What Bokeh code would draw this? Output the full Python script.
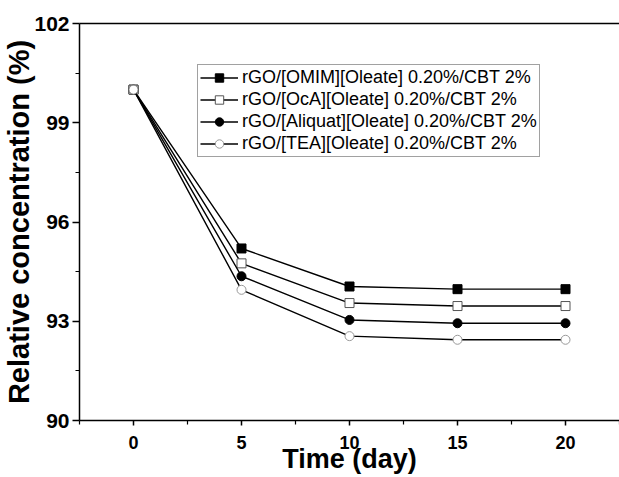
from bokeh.plotting import figure
from bokeh.models import (FixedTicker, LinearAxis, Legend, LegendItem, Range1d)
from bokeh.embed import file_html
from bokeh.resources import INLINE

days = [0, 5, 10, 15, 20]
omim = [100.0, 95.2, 94.05, 93.97, 93.97]
oca = [100.0, 94.75, 93.55, 93.46, 93.46]
aliquat = [100.0, 94.36, 93.04, 92.94, 92.94]
tea = [100.0, 93.95, 92.55, 92.44, 92.44]
labels = ["rGO/[OMIM][Oleate] 0.20%/CBT 2%",
          "rGO/[OcA][Oleate] 0.20%/CBT 2%",
          "rGO/[Aliquat][Oleate] 0.20%/CBT 2%",
          "rGO/[TEA][Oleate] 0.20%/CBT 2%"]
x_ticks = [0, 5, 10, 15, 20]
x_minor = [-2.5, 2.5, 7.5, 12.5, 17.5, 22.5]
y_ticks = [90, 93, 96, 99, 102]
y_minor = [91.5, 94.5, 97.5, 100.5]

FONT = "Liberation Sans"

p = figure(frame_width=540, frame_height=397, output_backend="svg",
           toolbar_location=None, x_range=Range1d(-2.5, 22.5),
           y_range=Range1d(90, 102),
           min_border_left=71, min_border_right=0, min_border_top=23,
           min_border_bottom=40)
p.outline_line_color = None
p.grid.visible = False
p.background_fill_color = "white"
p.border_fill_color = "white"

for ax, ticks, minor in ((p.xaxis[0], x_ticks, x_minor), (p.yaxis[0], y_ticks, y_minor)):
    ax.ticker = FixedTicker(ticks=ticks, minor_ticks=minor)
    ax.axis_line_width = 1.5
    ax.axis_line_color = "black"
    ax.major_tick_line_width = 1.5
    ax.minor_tick_line_width = 1.2
    ax.major_tick_in = 0
    ax.minor_tick_in = 0
    ax.major_tick_out = 7
    ax.minor_tick_out = 4
    ax.major_label_text_font = FONT
    ax.major_label_text_font_style = "bold"
    ax.major_label_text_color = "black"
    ax.axis_label_text_font = FONT
    ax.axis_label_text_font_style = "bold"
    ax.axis_label_text_color = "black"

p.xaxis[0].major_tick_out = 5
p.xaxis[0].major_label_text_font_size = "18px"
p.xaxis[0].major_label_standoff = 10
p.xaxis[0].axis_label = "Time (day)"
p.xaxis[0].axis_label_text_font_size = "27px"
p.xaxis[0].axis_label_standoff = -8

p.yaxis[0].major_label_text_font_size = "21px"
p.yaxis[0].major_label_standoff = 3
p.yaxis[0].axis_label = "Relative concentration (%)"
p.yaxis[0].axis_label_text_font_size = "29px"
p.yaxis[0].axis_label_standoff = -4

top = LinearAxis(ticker=FixedTicker(ticks=[]), major_label_text_font_size="0px",
                 major_tick_line_color=None, minor_tick_line_color=None,
                 axis_line_width=1.5, major_label_standoff=0)
p.add_layout(top, "above")

styles = [
    dict(marker="square", fill_color="black", line_color="black"),
    dict(marker="square", fill_color="white", line_color="#555555"),
    dict(marker="circle", fill_color="black", line_color="black"),
    dict(marker="circle", fill_color="white", line_color="#999999"),
]
items = []
for ys, lab, st in zip([omim, oca, aliquat, tea], labels, styles):
    ln = p.line(days, ys, line_color="black", line_width=1.4)
    sc = p.scatter(days, ys, size=9, line_width=1, **st)
    items.append(LegendItem(label=lab, renderers=[ln, sc]))

legend = Legend(items=items, location=(118, 263))
legend.label_text_font = FONT
legend.label_text_font_size = "18px"
legend.label_text_color = "black"
legend.border_line_color = "#444444"
legend.border_line_width = 1
legend.padding = 2
legend.spacing = 1
legend.margin = 0
legend.glyph_width = 38
legend.glyph_height = 21
legend.label_height = 21
legend.label_standoff = 4
legend.background_fill_alpha = 1
p.add_layout(legend, "center")

open("out.html", "w").write(file_html(p, INLINE))
